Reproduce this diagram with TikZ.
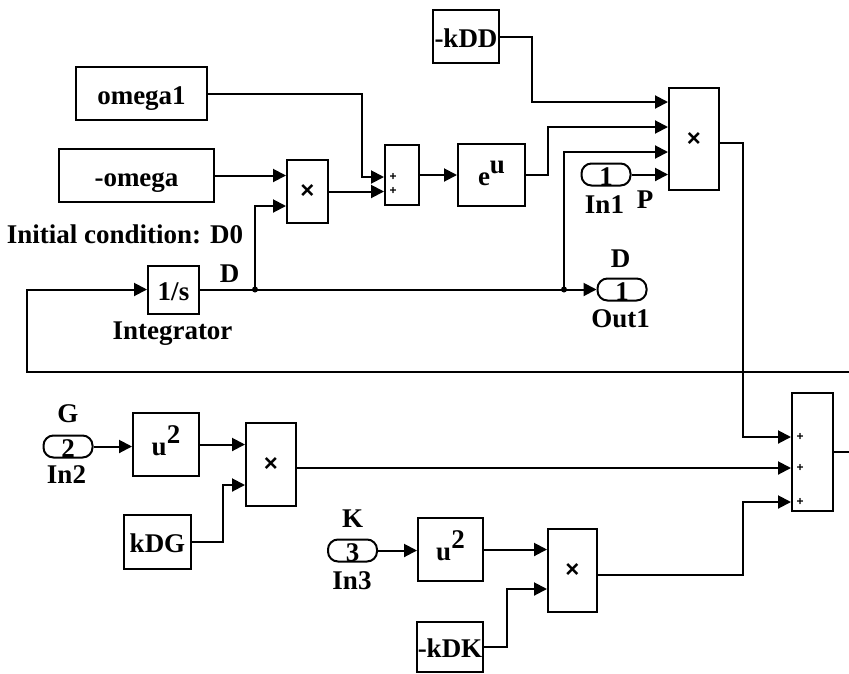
\documentclass[tikz,border=0pt]{standalone}
\usepackage{fontspec}
\setmainfont{Liberation Serif}
\newfontfamily\symfont{Liberation Sans}
\usetikzlibrary{arrows.meta,calc}
\begin{document}
\begin{tikzpicture}[x=1pt,y=-1pt,
  every node/.style={font=\fontsize{27}{28}\selectfont\bfseries},
  blk/.style={draw, line width=2pt, inner sep=0pt, text height=21pt, text depth=0pt},
  port/.style={blk, rounded corners=10pt, minimum width=49pt, minimum height=22pt},
  mul/.style={draw, line width=2pt, inner sep=0pt, font=\symfont\fontsize{24}{24}\selectfont\bfseries},
  sumb/.style={draw, line width=2pt, inner sep=0pt},
  pl/.style={inner sep=0pt, font=\symfont\fontsize{12}{12}\selectfont\bfseries},
  lbl/.style={inner sep=0pt, anchor=base},
  wire/.style={line width=2pt},
  arr/.style={wire, -{Triangle[length=13pt,width=13pt]}},
  dot/.style={circle, fill, inner sep=0pt, minimum size=6pt}
]
\useasboundingbox[fill=white] (0,0) rectangle (849,673);

% blocks
\node[blk, minimum width=66pt, minimum height=53pt] (kDD) at (466,36.5) {-kDD};
\node[blk, minimum width=131pt, minimum height=53pt] (om1) at (141.5,93.5) {omega1};
\node[blk, minimum width=155pt, minimum height=53pt] (om) at (136.5,175.5) {-omega};
\node[mul, minimum width=41pt, minimum height=63pt] (p1) at (307.5,191.5) {×};
\node[sumb, minimum width=34pt, minimum height=60pt] (s1) at (402,175) {};
\node[blk, minimum width=67pt, minimum height=62pt] (eu) at (491.5,175) {e\raisebox{12pt}{u}};
\node[mul, minimum width=50pt, minimum height=102pt] (p2) at (694,139) {×};
\node[port] (in1) at (606,174.5) {1};
\node[blk, minimum width=51pt, minimum height=48pt] (int) at (173.5,289.5) {1/s};
\node[port] (out1) at (622,289.5) {1};
\node[sumb, minimum width=41pt, minimum height=118pt] (s2) at (812.5,452) {};
\node[port] (in2) at (68,446.5) {2};
\node[blk, minimum width=66pt, minimum height=63pt] (sq1) at (166,444.5) {u\raisebox{12pt}{2}};
\node[mul, minimum width=50pt, minimum height=83pt] (p3) at (271,464.5) {×};
\node[blk, minimum width=67pt, minimum height=54pt] (kDG) at (157.5,542) {kDG};
\node[port] (in3) at (352.5,550.5) {3};
\node[blk, minimum width=65pt, minimum height=63pt] (sq2) at (450.5,549.5) {u\raisebox{12pt}{2}};
\node[mul, minimum width=49pt, minimum height=83pt] (p4) at (572.5,570.5) {×};
\node[blk, minimum width=66pt, minimum height=50pt] (kDK) at (450,647) {-kDK};

% sum signs
\node[pl] (s1a) at (393,177) {+};
\node[pl] (s1b) at (393,191) {+};
\node[pl] (s2a) at (800,437) {+};
\node[pl] (s2b) at (800,468) {+};
\node[pl] (s2c) at (800,502) {+};

% labels
\node[lbl] (ic) at (125,243) {Initial condition: D0};
\node[lbl] (intl) at (172.5,339) {Integrator};
\node[lbl] (dl) at (229.5,282) {D};
\node[lbl] (dout) at (620.5,267) {D};
\node[lbl] (out1l) at (620.5,327) {Out1};
\node[lbl] (in1l) at (604.5,213) {In1};
\node[lbl] (pl1) at (645,208) {P};
\node[lbl] (gl) at (68,422) {G};
\node[lbl] (in2l) at (66.5,483) {In2};
\node[lbl] (kl) at (352.5,527) {K};
\node[lbl] (in3l) at (352,589) {In3};

% junctions
\node[dot] (j1) at (255,289.5) {};
\node[dot] (j2) at (564,289.5) {};
\coordinate (fbR) at (849,372);
\coordinate (s2out) at (849,452);

% wires
\draw[arr] (kDD.east) -| (532,102) -- (p2.west |- 0,102);
\draw[arr] (om1.east) -| (362,177) -- (s1.west |- 0,177);
\draw[arr] (om.east) -- (p1.west |- om.east);
\draw[arr] (p1.east) -- (s1.west |- p1.east);
\draw[arr] (s1.east) -- (eu.west);
\draw[arr] (eu.east) -| (548,127) -- (p2.west |- 0,127);
\draw[arr] (int.east) -- (out1.west);
\draw[arr] (j1.center) |- (p1.west |- 0,206);
\draw[arr] (j2.center) |- (p2.west |- 0,152);
\draw[arr] (in1.east) -- (p2.west |- in1.east);
\draw[arr] (fbR) -| (27,289.5) -- (int.west);
\draw[wire] (s2.east) -- (s2out);
\draw[arr] (p2.east |- 0,143) -| (743,437) -- (s2.west |- 0,437);
\draw[arr] (p3.east |- 0,468) -- (s2.west |- 0,468);
\draw[arr] (p4.east |- 0,575) -| (743,502) -- (s2.west |- 0,502);
\draw[arr] (in2.east) -- (sq1.west |- in2.east);
\draw[arr] (sq1.east) -- (p3.west |- sq1.east);
\draw[arr] (kDG.east) -| (223,485) -- (p3.west |- 0,485);
\draw[arr] (in3.east) -- (sq2.west |- in3.east);
\draw[arr] (sq2.east) -- (p4.west |- sq2.east);
\draw[arr] (kDK.east) -| (507,589) -- (p4.west |- 0,589);
\end{tikzpicture}
\end{document}
